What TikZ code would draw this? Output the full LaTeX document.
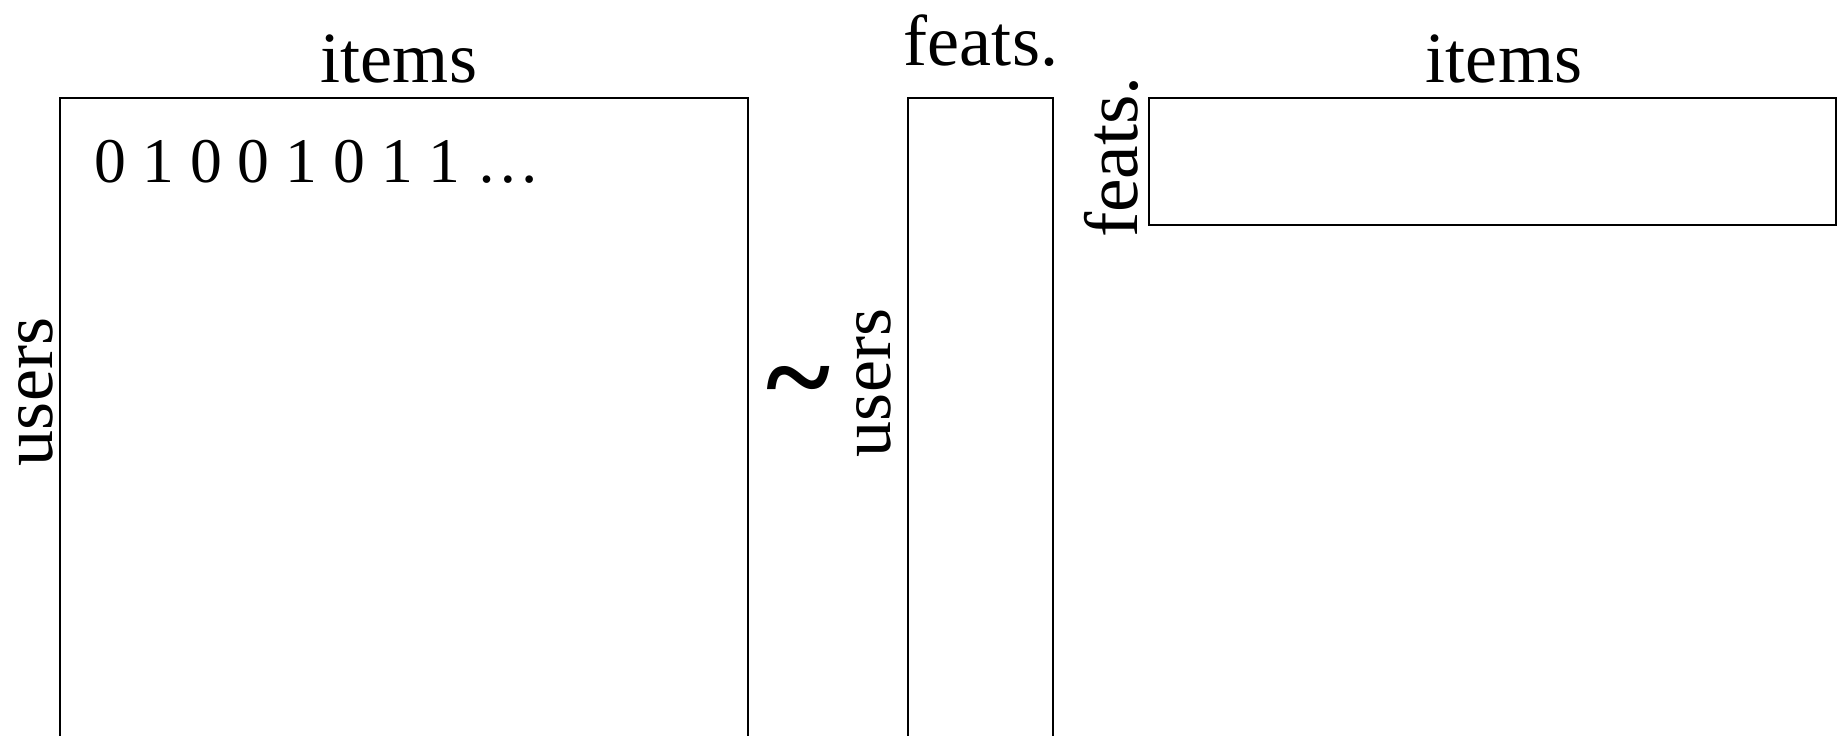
\documentclass[tikz,border=0pt]{standalone}
\usepackage{fontspec}
\setmainfont{Liberation Serif}

\begin{document}
\begin{tikzpicture}[x=0.01cm, y=0.01cm,
    matbox/.style={draw, line width=0.5pt, inner sep=0pt, anchor=north west},
    lbl/.style={inner sep=0pt, font=\fontsize{20.5}{24}\selectfont},
    rowtxt/.style={inner sep=0pt, font=\fontsize{18.1}{21}\selectfont}]

  \useasboundingbox (0,0) rectangle (1841,735);
  \clip (0,0) rectangle (1841,735);

  % --- matrices: ratings ~ user factors x item factors ---
  \node[matbox, minimum width=6.88cm, minimum height=6.9cm] (ratings)  at (59,638)   {};
  \node[matbox, minimum width=1.45cm, minimum height=6.9cm] (userfac)  at (907,638)  {};
  \node[matbox, minimum width=6.87cm, minimum height=1.27cm] (itemfac) at (1148,638) {};

  % --- dimension labels ---
  \node[lbl, anchor=base] (ratitems) at (399,653) {items};
  \node[lbl, anchor=base, rotate=90] (ratusers) at (52,343) {users};
  \node[lbl, anchor=base] (ufeats) at (981,670) {feats.};
  \node[lbl, anchor=base, rotate=90] (uusers) at (890,352) {users};
  \node[lbl, anchor=base] (iitems) at (1504,653) {items};
  \node[lbl, anchor=base, rotate=90, font=\fontsize{21.5}{24}\selectfont] (ifeats) at (1137,578) {feats.};

  % first row of the rating matrix
  \node[rowtxt, anchor=base west] (firstrow) at (94,553) {0 1 0 0 1 0 1 1 \dots};

  % approximately equal
  \node[inner sep=0pt, font=\fontsize{35}{38}\selectfont\bfseries] (approx) at (798,343) {\textasciitilde};

\end{tikzpicture}
\end{document}
